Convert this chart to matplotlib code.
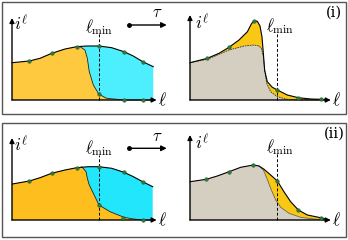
import numpy as np
import matplotlib.pyplot as plt
from matplotlib.patches import Rectangle

plt.rcParams['mathtext.fontset'] = 'cm'

W, H = 348, 240

# ---- panel (i), left: before tau ----
tl_up_l = [0, 1.24, 2.0, 2.84, 3.79, 4.62, 5.34, 6.21, 7.12, 8.0, 8.66, 9.34, 10.09]
tl_up_i = [3.73, 3.9, 4.17, 4.67, 5.1, 5.33, 5.4, 5.4, 5.23, 4.83, 4.4, 3.83, 3.33]
tl_lo_l = [4.86, 5.21, 5.38, 5.52, 5.81, 6.21, 6.76, 8.0, 9.36, 10.09]
tl_lo_i = [5.33, 5.0, 4.17, 2.83, 1.5, 0.57, 0.17, 0.0, 0.0, 0.0]
tl_dot_l = [1.21, 2.86, 4.64, 6.21, 8.0, 9.36, 6.21, 8.0, 9.36]
tl_dot_i = [3.9, 4.7, 5.3, 5.4, 4.8, 3.8, 0.6, 0.02, 0.02]

# ---- panel (i), right: after tau ----
tr_up_l = [0, 1.24, 2.07, 2.79, 3.5, 4.1, 4.38, 4.57, 4.81, 5.0, 5.14, 5.24, 5.33,
           5.52, 5.88, 6.24, 6.95, 7.74, 8.62, 9.33, 9.93]
tr_up_i = [3.73, 4.17, 4.67, 5.27, 6.0, 6.83, 7.6, 7.93, 7.87, 7.4, 6.33, 4.67, 3.0,
           1.83, 1.27, 1.0, 0.5, 0.23, 0.1, 0.07, 0.0]
tr_gr_l = [0, 1.24, 2.79, 3.86, 4.57, 4.93, 5.1, 5.24, 5.33, 5.48, 5.76, 6.24, 6.95, 7.9, 9.93]
tr_gr_i = [3.73, 4.07, 5.0, 5.4, 5.5, 5.4, 5.17, 4.33, 3.0, 1.67, 0.83, 0.33, 0.07, 0.0, 0.0]
tr_dot_l = [1.24, 2.79, 4.57, 6.24, 7.74, 9.33]
tr_dot_i = [4.17, 5.27, 7.93, 1.0, 0.2, 0.07]

# ---- panel (ii), left ----
bl_up_l = [0.02, 1.24, 2.0, 2.83, 3.79, 4.62, 5.45, 6.21, 7.12, 8.0, 8.67, 9.33, 10.05]
bl_up_i = [3.6, 3.9, 4.23, 4.67, 5.0, 5.23, 5.33, 5.33, 5.17, 4.77, 4.33, 3.83, 3.33]
bl_lo_l = [4.98, 5.29, 5.38, 5.52, 5.81, 6.21, 7.0, 8.0, 8.67, 9.38, 10.05]
bl_lo_i = [5.33, 4.83, 4.17, 3.5, 2.67, 1.5, 0.83, 0.27, 0.1, 0.0, 0.0]
bl_dot_l = [1.24, 2.83, 4.62, 6.21, 8.0, 9.33, 6.21, 7.9, 9.38]
bl_dot_i = [3.9, 4.67, 5.23, 5.33, 4.83, 3.83, 1.5, 0.23, 0.02]

# ---- panel (ii), right ----
br_left_l = [0, 1.17, 1.95, 2.79, 3.62, 4.52, 4.93]
br_left_i = [3.83, 4.07, 4.4, 4.83, 5.27, 5.5, 5.4]
br_up_l = [4.93, 5.29, 5.76, 6.24, 6.71, 7.19, 7.74, 8.38, 9.33, 9.93]
br_up_i = [5.4, 5.07, 4.5, 3.9, 2.83, 1.83, 1.0, 0.5, 0.23, 0.0]
br_lo_l = [4.93, 5.24, 5.52, 5.81, 6.12, 6.48, 7.07, 7.9, 8.86, 9.57, 9.93]
br_lo_i = [5.4, 5.0, 4.07, 3.0, 2.0, 1.27, 0.67, 0.27, 0.1, 0.0, 0.0]
br_dot_l = [1.17, 2.79, 4.52, 6.24, 7.74, 9.33]
br_dot_i = [4.07, 4.83, 5.5, 3.9, 1.0, 0.23]

l_min = 6.21

orange1, cyan1 = '#FEC93F', '#4DEFFF'
orange2, cyan2 = '#FDBE1E', '#22E6FB'
yellow, grey = '#F9C814', '#D4CFC1'
dotc = '#2F7A3A'

fig = plt.figure(figsize=(W / 100, H / 100), dpi=100)


def panel_ax(ox, oy):
    ax = fig.add_axes([(ox - 12) / W, 1 - (oy + 12) / H, 170 / W, 110 / H])
    ax.set_xlim(-12 / 14, 158 / 14)
    ax.set_ylim(-1.2, 9.8)
    ax.axis('off')
    return ax


def axes_arrows(ax, xend, yend, ylab, xlab):
    ap = dict(arrowstyle='-|>', lw=1.0, color='k', mutation_scale=7, shrinkA=0, shrinkB=0)
    ax.annotate('', xy=(xend, 0), xytext=(0, 0), arrowprops=ap, zorder=5)
    ax.annotate('', xy=(0, yend), xytext=(0, 0), arrowprops=ap, zorder=5)
    ax.text(ylab[0], ylab[1], r'$i^{\ell}$', fontsize=12.5, ha='center', va='center')
    ax.text(xlab, 0, r'$\ell$', fontsize=12.5, ha='center', va='center')


def lmin_line(ax, top, lab_y, lab_x=None):
    ax.plot([l_min, l_min], [0, top], color='k', lw=0.7, ls=(0, (3, 2)), zorder=4)
    ax.text(l_min if lab_x is None else lab_x, lab_y, r'$\ell_{\min}$', fontsize=12,
            ha='center', va='center')


def tau_arrow(ax, y, lab_y):
    ax.plot([8.36], [y], 'o', color='k', ms=2.5, zorder=5, clip_on=False)
    ax.annotate('', xy=(11.05, y), xytext=(8.36, y), annotation_clip=False,
                arrowprops=dict(arrowstyle='-|>', lw=1.0, color='k', mutation_scale=8,
                                shrinkA=0, shrinkB=0))
    ax.text(10.4, lab_y, r'$\tau$', fontsize=12, ha='center', va='center')


def dots(ax, xs, ys):
    ax.plot(xs, ys, 'o', ms=2.6, mfc=dotc, mec='#1f4f25', mew=0.3, ls='none', zorder=6)


def two_tone(ax, up_l, up_i, lo_l, lo_i, c_low, c_high):
    # top colour under the whole curve, bottom colour under the split line
    ax.fill(up_l + [up_l[-1], up_l[0]], up_i + [0, 0], color=c_high, lw=0)
    keep = [k for k, v in enumerate(up_l) if v < lo_l[0]]
    pl = [up_l[k] for k in keep] + lo_l
    pi = [up_i[k] for k in keep] + lo_i
    ax.fill(pl + [pl[-1], pl[0]], pi + [0, 0], color=c_low, lw=0)
    ax.plot(lo_l, lo_i, color='#222222', lw=0.6)
    ax.plot(up_l, up_i, color='k', lw=0.8)


# (i) left
ax = panel_ax(12, 100)
two_tone(ax, tl_up_l, tl_up_i, tl_lo_l, tl_lo_i, orange1, cyan1)
dots(ax, tl_dot_l, tl_dot_i)
axes_arrows(ax, 10.33, 8.2, (0.69, 7.6), 10.76)
lmin_line(ax, 6.7, 7.3)
tau_arrow(ax, 7.5, 8.83)

# (i) right
ax = panel_ax(190, 100)
ax.fill(tr_up_l + [tr_up_l[-1], 0], tr_up_i + [0, 0], color=yellow, lw=0)
ax.fill(tr_gr_l + [tr_gr_l[-1], 0], tr_gr_i + [0, 0], color=grey, lw=0)
ax.plot(tr_gr_l, tr_gr_i, color='#333333', lw=0.6, ls=(0, (2, 1)))
ax.plot(tr_up_l, tr_up_i, color='k', lw=0.8)
dots(ax, tr_dot_l, tr_dot_i)
axes_arrows(ax, 10.05, 8.5, (0.88, 7.7), 10.48)
lmin_line(ax, 6.83, 7.4, lab_x=6.4)
ax.text(10.3, 8.7, '(i)', fontsize=10.5, family='DejaVu Serif', ha='center', va='center')

# (ii) left
ax = panel_ax(12, 220)
two_tone(ax, bl_up_l, bl_up_i, bl_lo_l, bl_lo_i, orange2, cyan2)
dots(ax, bl_dot_l, bl_dot_i)
axes_arrows(ax, 10.33, 8.2, (0.69, 7.5), 10.76)
lmin_line(ax, 6.5, 7.17)
tau_arrow(ax, 7.17, 8.4)

# (ii) right
ax = panel_ax(190, 220)
up_l = br_left_l + br_up_l[1:]
up_i = br_left_i + br_up_i[1:]
gr_l = br_left_l + br_lo_l[1:]
gr_i = br_left_i + br_lo_i[1:]
ax.fill(up_l + [up_l[-1], 0], up_i + [0, 0], color=yellow, lw=0)
ax.fill(gr_l + [gr_l[-1], 0], gr_i + [0, 0], color=grey, lw=0)
ax.plot(br_lo_l, br_lo_i, color='#6b6650', lw=0.6)
ax.plot(up_l, up_i, color='k', lw=0.8)
dots(ax, br_dot_l, br_dot_i)
axes_arrows(ax, 10.05, 8.5, (0.88, 7.7), 10.48)
lmin_line(ax, 6.83, 7.33, lab_x=6.4)
ax.text(10.3, 8.6, '(ii)', fontsize=10.5, family='DejaVu Serif', ha='center', va='center')

# frames around the two rows
for y0, y1 in [(2, 114), (123, 237)]:
    fig.add_artist(Rectangle((2 / W, 1 - y1 / H), 344 / W, (y1 - y0) / H,
                             transform=fig.transFigure, fill=False, ec='#555555', lw=1.0))

plt.savefig('out.png', dpi=100)
